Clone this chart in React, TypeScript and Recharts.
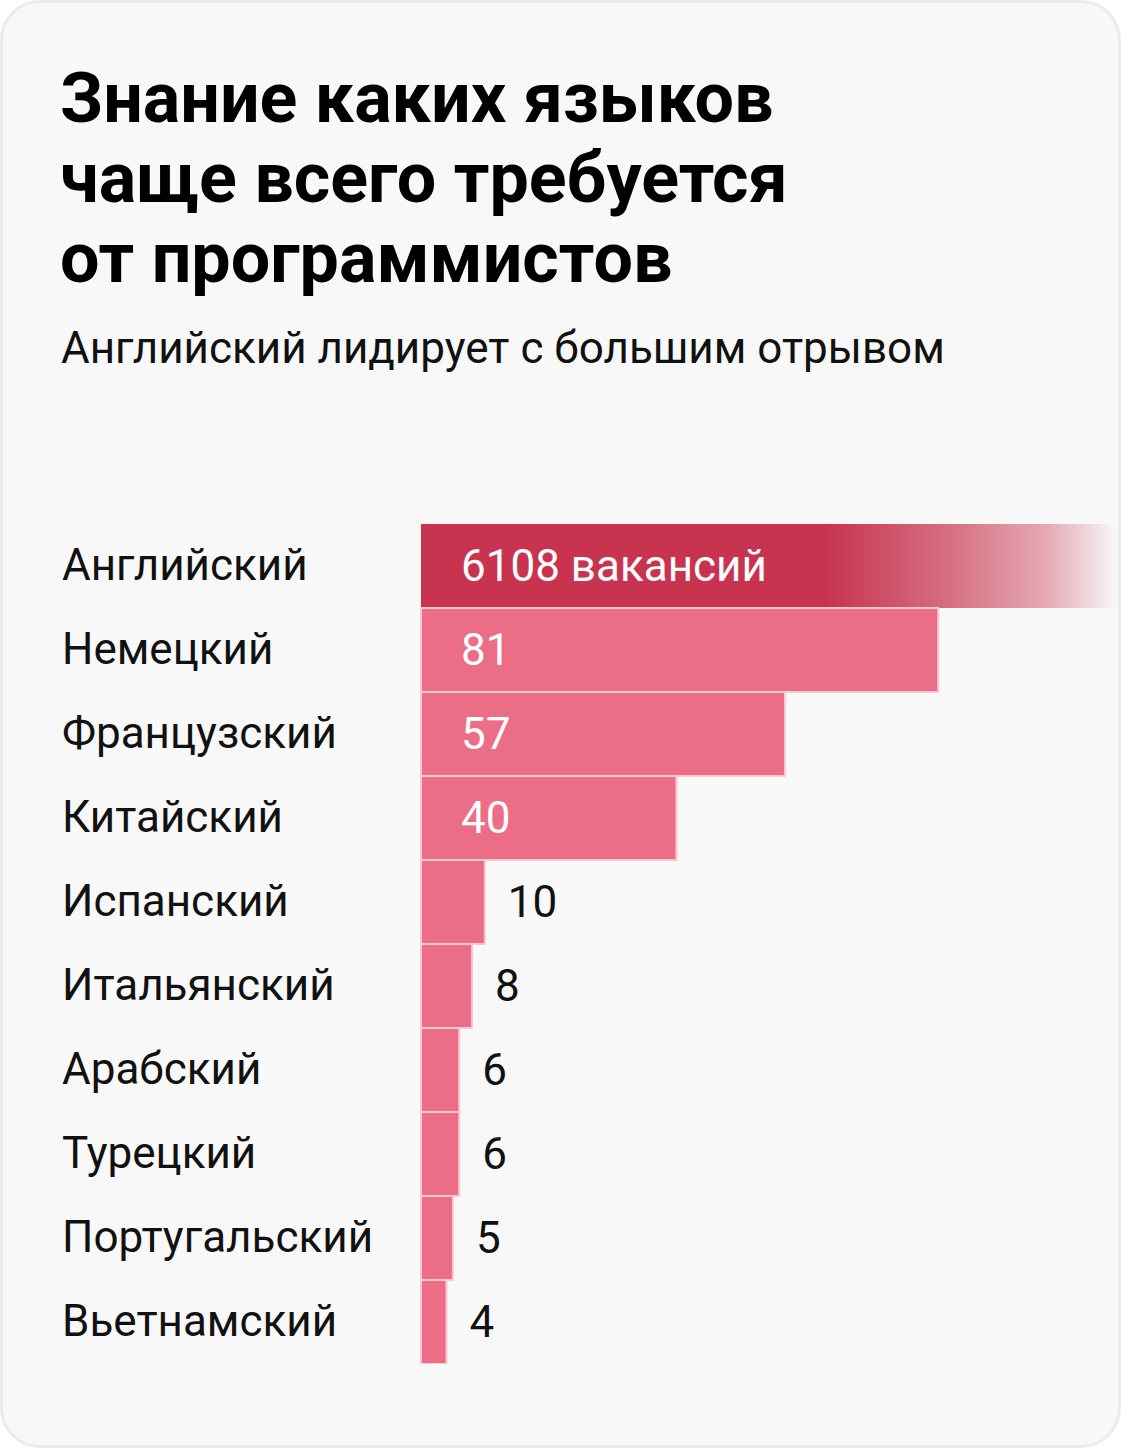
import React from 'react';
import { BarChart, Bar, XAxis, YAxis, Cell, LabelList } from 'recharts';

const languages = [
  'Английский',
  'Немецкий',
  'Французский',
  'Китайский',
  'Испанский',
  'Итальянский',
  'Арабский',
  'Турецкий',
  'Португальский',
  'Вьетнамский',
];
const vacancies = [6108, 81, 57, 40, 10, 8, 6, 6, 5, 4];

// english is far off scale, so its bar is cut at the card edge and fades out
const AXIS_MAX = 109;

const data = languages.map((name, i) => ({
  name,
  count: vacancies[i],
  shown: Math.min(vacancies[i], AXIS_MAX),
}));

const FONT = 'Roboto, "Noto Sans", sans-serif';

const CategoryTick = (props: any) => {
  const { y, payload } = props;
  return (
    <text x={62} y={y} dy={14} textAnchor="start" fontSize={44} fill="#111" fontFamily={FONT}>
      {payload.value}
    </text>
  );
};

const ValueLabel = (props: any) => {
  const { x, y, width, height, index } = props;
  const v = vacancies[index];
  const inside = v >= 40;
  const text = index === 0 ? `${v} вакансий` : `${v}`;
  return (
    <text
      x={inside ? x + 40 : x + width + 23}
      y={y + height / 2}
      dy={15}
      fontSize={44}
      fill={inside ? '#fff' : '#111'}
      fontFamily={FONT}
    >
      {text}
    </text>
  );
};

export default function App() {
  return (
    <div style={{ width: 1121, height: 1448, position: 'relative', background: '#fff' }}>
      <style>{`body{margin:0}`}</style>
      <div
        style={{
          position: 'absolute',
          inset: 0,
          boxSizing: 'border-box',
          border: '3px solid #ebebeb',
          borderRadius: 40,
          background: '#f8f8f8',
        }}
      />
      <div
        style={{
          position: 'absolute',
          left: 60,
          top: 58,
          fontFamily: FONT,
          fontWeight: 700,
          fontSize: 70,
          lineHeight: '80px',
          color: '#000',
        }}
      >
        Знание каких языков
        <br />
        чаще всего требуется
        <br />
        от программистов
      </div>
      <div
        style={{
          position: 'absolute',
          left: 61,
          top: 323,
          fontFamily: FONT,
          fontSize: 44,
          lineHeight: '50px',
          color: '#111',
        }}
      >
        Английский лидирует с большим отрывом
      </div>
      <div style={{ position: 'absolute', left: 0, top: 524 }}>
        <BarChart
          width={1121}
          height={840}
          data={data}
          layout="vertical"
          margin={{ top: 0, right: 4, bottom: 0, left: 0 }}
          barCategoryGap={0}
        >
          <defs>
            <linearGradient id="fadeOut" x1="0" y1="0" x2="1" y2="0">
              <stop offset="0.58" stopColor="#c8344f" stopOpacity={1} />
              <stop offset="0.76" stopColor="#c8344f" stopOpacity={0.7} />
              <stop offset="0.9" stopColor="#c8344f" stopOpacity={0.4} />
              <stop offset="1" stopColor="#c8344f" stopOpacity={0} />
            </linearGradient>
          </defs>
          <XAxis type="number" hide domain={[0, AXIS_MAX]} />
          <YAxis
            type="category"
            dataKey="name"
            width={421}
            axisLine={false}
            tickLine={false}
            tick={<CategoryTick />}
          />
          <Bar dataKey="shown" isAnimationActive={false}>
            {data.map((d, i) => (
              <Cell
                key={d.name}
                fill={i === 0 ? 'url(#fadeOut)' : '#ec6e86'}
                stroke={i === 0 ? 'none' : '#f9c9d2'}
                strokeWidth={2}
              />
            ))}
            <LabelList dataKey="count" content={<ValueLabel />} />
          </Bar>
        </BarChart>
      </div>
    </div>
  );
}
